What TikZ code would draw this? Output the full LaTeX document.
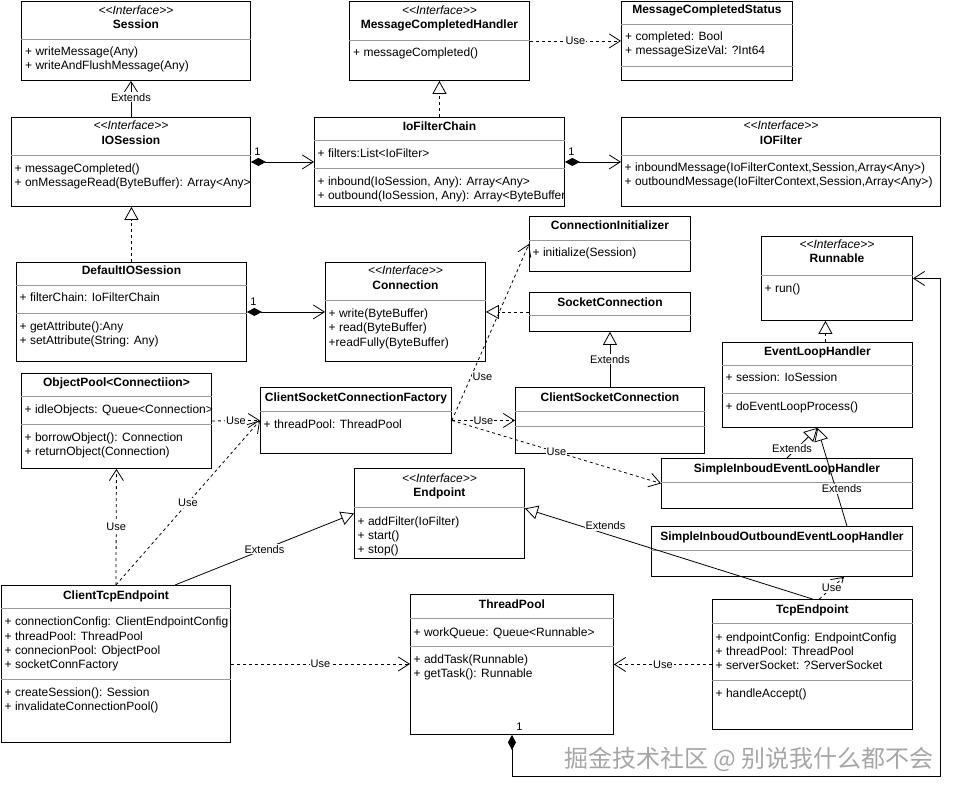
\documentclass[tikz,border=0pt]{standalone}
\usepackage{fontspec}
\setmainfont{Liberation Sans}[Ligatures=TeXOff]
\newfontfamily\cjkfont{Noto Sans CJK SC}
\usepackage{xcolor}
\colorlet{sepgray}{black!40}
\colorlet{markgray}{black!35}
\usetikzlibrary{arrows.meta}

\begin{document}
\begin{tikzpicture}[x=1pt, y=-1pt,
    box/.style={draw, fill=white, line width=0.9pt, anchor=north west, inner sep=0pt},
    stereo/.style={anchor=base, inner sep=0pt, font=\fontsize{12}{14}\selectfont\itshape},
    title/.style={anchor=base, inner sep=0pt, font=\fontsize{12}{14}\selectfont\bfseries},
    member/.style={anchor=base west, inner sep=0pt, font=\fontsize{12}{14}\selectfont},
    sepline/.style={sepgray, line width=0.7pt},
    openhead/.tip={Straight Barb[length=11pt, width=14pt]},
    hollowhead/.tip={Triangle[open, length=13pt, width=14pt, fill=white]},
    uses/.style={line width=0.8pt, dash pattern=on 3pt off 3pt, -openhead},
    extends/.style={line width=0.8pt, -hollowhead},
    realizes/.style={line width=0.8pt, dash pattern=on 3pt off 3pt, -hollowhead},
    comp/.style={line width=0.8pt, {Diamond[length=15pt, width=8pt]}-openhead},
    lbl/.style={fill=white, inner sep=1pt, font=\fontsize{11}{13}\selectfont},
    mult/.style={anchor=south west, inner sep=1pt, xshift=2pt, yshift=5pt, font=\fontsize{11}{13}\selectfont}]
  \useasboundingbox (0,0) rectangle (958,794);

  % top row
  \node[box, minimum width=229pt, minimum height=79pt] (session) at (21,1) {};
  \node[stereo] (session-st) at (session.north |- 0,15) {<<Interface>>};
  \node[title] (session-t) at (session.north |- 0,29) {Session};
  \draw[sepline] (session.west |- 0,39) -- (session.east |- 0,39);
  \node[member] (session-m1) at (25,56) {+ writeMessage(Any)};
  \node[member] (session-m2) at (25,70) {+ writeAndFlushMessage(Any)};

  \node[box, minimum width=180pt, minimum height=79pt] (mch) at (349,1) {};
  \node[stereo] (mch-st) at (mch.north |- 0,15) {<<Interface>>};
  \node[title] (mch-t) at (mch.north |- 0,29) {MessageCompletedHandler};
  \draw[sepline] (mch.west |- 0,40) -- (mch.east |- 0,40);
  \node[member] (mch-m1) at (353,57) {+ messageCompleted()};

  \node[box, minimum width=171pt, minimum height=79pt] (mcs) at (621,1) {};
  \node[title] (mcs-t) at (mcs.north |- 0,14) {MessageCompletedStatus};
  \draw[sepline] (mcs.west |- 0,24) -- (mcs.east |- 0,24);
  \node[member] (mcs-a1) at (625,41) {+ completed: Bool};
  \node[member] (mcs-a2) at (625,55) {+ messageSizeVal: ?Int64};
  \draw[sepline] (mcs.west |- 0,66) -- (mcs.east |- 0,66);

  % second row
  \node[box, minimum width=239pt, minimum height=89pt] (iosession) at (11,117) {};
  \node[stereo] (iosession-st) at (iosession.north |- 0,130) {<<Interface>>};
  \node[title] (iosession-t) at (iosession.north |- 0,145) {IOSession};
  \draw[sepline] (iosession.west |- 0,155) -- (iosession.east |- 0,155);
  \node[member] (iosession-m1) at (14.5,172.5) {+ messageCompleted()};
  \node[member] (iosession-m2) at (14.5,186.5) {+ onMessageRead(ByteBuffer): Array<Any>};

  \node[box, minimum width=250pt, minimum height=89pt] (iofc) at (314,117) {};
  \node[title] (iofc-t) at (iofc.north |- 0,131) {IoFilterChain};
  \draw[sepline] (iofc.west |- 0,140) -- (iofc.east |- 0,140);
  \node[member] (iofc-a1) at (317.5,157.5) {+ filters:List<IoFilter>};
  \draw[sepline] (iofc.west |- 0,168) -- (iofc.east |- 0,168);
  \node[member] (iofc-m1) at (317.5,185.5) {+ inbound(IoSession, Any): Array<Any>};
  \node[member] (iofc-m2) at (317.5,199.5) {+ outbound(IoSession, Any): Array<ByteBuffer};

  \node[box, minimum width=319pt, minimum height=89pt] (iofilter) at (621,117) {};
  \node[stereo] (iofilter-st) at (iofilter.north |- 0,130) {<<Interface>>};
  \node[title] (iofilter-t) at (iofilter.north |- 0,145) {IOFilter};
  \draw[sepline] (iofilter.west |- 0,155) -- (iofilter.east |- 0,155);
  \node[member] (iofilter-m1) at (624.5,172) {+ inboundMessage(IoFilterContext,Session,Array<Any>)};
  \node[member] (iofilter-m2) at (624.5,186) {+ outboundMessage(IoFilterContext,Session,Array<Any>)};

  % middle
  \node[box, minimum width=161pt, minimum height=55pt] (ci) at (529,216) {};
  \node[title] (ci-t) at (ci.north |- 0,230) {ConnectionInitializer};
  \draw[sepline] (ci.west |- 0,240.5) -- (ci.east |- 0,240.5);
  \node[member] (ci-m1) at (532.5,257) {+ initialize(Session)};

  \node[box, minimum width=151pt, minimum height=84pt] (runnable) at (761,236) {};
  \node[stereo] (runnable-st) at (runnable.north |- 0,249) {<<Interface>>};
  \node[title] (runnable-t) at (runnable.north |- 0,263) {Runnable};
  \draw[sepline] (runnable.west |- 0,275) -- (runnable.east |- 0,275);
  \node[member] (runnable-m1) at (764.5,292) {+ run()};

  \node[box, minimum width=230pt, minimum height=99pt] (defsess) at (16,262) {};
  \node[title] (defsess-t) at (defsess.north |- 0,275) {DefaultIOSession};
  \draw[sepline] (defsess.west |- 0,285.5) -- (defsess.east |- 0,285.5);
  \node[member] (defsess-a1) at (19.5,301.5) {+ filterChain: IoFilterChain};
  \draw[sepline] (defsess.west |- 0,313) -- (defsess.east |- 0,313);
  \node[member] (defsess-m1) at (19.5,330) {+ getAttribute():Any};
  \node[member] (defsess-m2) at (19.5,344) {+ setAttribute(String: Any)};

  \node[box, minimum width=160pt, minimum height=99pt] (connection) at (325,262) {};
  \node[stereo] (connection-st) at (connection.north |- 0,275) {<<Interface>>};
  \node[title] (connection-t) at (connection.north |- 0,290) {Connection};
  \draw[sepline] (connection.west |- 0,300) -- (connection.east |- 0,300);
  \node[member] (connection-m1) at (328.5,317) {+ write(ByteBuffer)};
  \node[member] (connection-m2) at (328.5,331) {+ read(ByteBuffer)};
  \node[member] (connection-m3) at (328.5,346) {+readFully(ByteBuffer)};

  \node[box, minimum width=161pt, minimum height=39pt] (sockconn) at (529,292) {};
  \node[title] (sockconn-t) at (sockconn.north |- 0,306) {SocketConnection};
  \draw[sepline] (sockconn.west |- 0,315.5) -- (sockconn.east |- 0,315.5);

  \node[box, minimum width=190pt, minimum height=85pt] (elh) at (722,342) {};
  \node[title] (elh-t) at (elh.north |- 0,355) {EventLoopHandler};
  \draw[sepline] (elh.west |- 0,365.5) -- (elh.east |- 0,365.5);
  \node[member] (elh-a1) at (725.5,381.5) {+ session: IoSession};
  \draw[sepline] (elh.west |- 0,393) -- (elh.east |- 0,393);
  \node[member] (elh-m1) at (725.5,410) {+ doEventLoopProcess()};

  \node[box, minimum width=190pt, minimum height=95pt] (objpool) at (21,373) {};
  \node[title] (objpool-t) at (objpool.north |- 0,386) {ObjectPool<Connectiion>};
  \draw[sepline] (objpool.west |- 0,396.5) -- (objpool.east |- 0,396.5);
  \node[member] (objpool-a1) at (24.5,413) {+ idleObjects: Queue<Connection>};
  \draw[sepline] (objpool.west |- 0,424) -- (objpool.east |- 0,424);
  \node[member] (objpool-m1) at (24.5,441.5) {+ borrowObject(): Connection};
  \node[member] (objpool-m2) at (24.5,455) {+ returnObject(Connection)};

  \node[box, minimum width=191pt, minimum height=66pt] (cscf) at (260,387) {};
  \node[title] (cscf-t) at (cscf.north |- 0,401.5) {ClientSocketConnectionFactory};
  \draw[sepline] (cscf.west |- 0,411.5) -- (cscf.east |- 0,411.5);
  \node[member] (cscf-a1) at (263.5,428) {+ threadPool: ThreadPool};

  \node[box, minimum width=189pt, minimum height=66pt] (csc) at (515,387) {};
  \node[title] (csc-t) at (csc.north |- 0,401.5) {ClientSocketConnection};
  \draw[sepline] (csc.west |- 0,411.5) -- (csc.east |- 0,411.5);
  \draw[sepline] (csc.west |- 0,426.5) -- (csc.east |- 0,426.5);

  \node[box, minimum width=251pt, minimum height=50pt] (sieh) at (661,458) {};
  \node[title] (sieh-t) at (sieh.north |- 0,472) {SimpleInboudEventLoopHandler};
  \draw[sepline] (sieh.west |- 0,482) -- (sieh.east |- 0,482);

  \node[box, minimum width=170pt, minimum height=90pt] (endpoint) at (354,468) {};
  \node[stereo] (endpoint-st) at (endpoint.north |- 0,482) {<<Interface>>};
  \node[title] (endpoint-t) at (endpoint.north |- 0,496.5) {Endpoint};
  \draw[sepline] (endpoint.west |- 0,507) -- (endpoint.east |- 0,507);
  \node[member] (endpoint-m1) at (357.5,525) {+ addFilter(IoFilter)};
  \node[member] (endpoint-m2) at (357.5,539) {+ start()};
  \node[member] (endpoint-m3) at (357.5,553) {+ stop()};

  \node[box, minimum width=261pt, minimum height=50pt] (sioeh) at (651,526) {};
  \node[title] (sioeh-t) at (sioeh.north |- 0,540) {SimpleInboudOutboundEventLoopHandler};
  \draw[sepline] (sioeh.west |- 0,550.5) -- (sioeh.east |- 0,550.5);

  % bottom row
  \node[box, minimum width=229pt, minimum height=157pt] (cte) at (1,585) {};
  \node[title] (cte-t) at (cte.north |- 0,599) {ClientTcpEndpoint};
  \draw[sepline] (cte.west |- 0,608) -- (cte.east |- 0,608);
  \node[member] (cte-a1) at (4.5,625.5) {+ connectionConfig: ClientEndpointConfig};
  \node[member] (cte-a2) at (4.5,640) {+ threadPool: ThreadPool};
  \node[member] (cte-a3) at (4.5,654) {+ connecionPool: ObjectPool};
  \node[member] (cte-a4) at (4.5,668.5) {+ socketConnFactory};
  \draw[sepline] (cte.west |- 0,679) -- (cte.east |- 0,679);
  \node[member] (cte-m1) at (4.5,696) {+ createSession(): Session};
  \node[member] (cte-m2) at (4.5,710) {+ invalidateConnectionPool()};

  \node[box, minimum width=203pt, minimum height=140pt] (tp) at (410,594) {};
  \node[title] (tp-t) at (tp.north |- 0,608) {ThreadPool};
  \draw[sepline] (tp.west |- 0,618.5) -- (tp.east |- 0,618.5);
  \node[member] (tp-a1) at (413.5,636) {+ workQueue: Queue<Runnable>};
  \draw[sepline] (tp.west |- 0,646.5) -- (tp.east |- 0,646.5);
  \node[member] (tp-m1) at (413.5,663) {+ addTask(Runnable)};
  \node[member] (tp-m2) at (413.5,677) {+ getTask(): Runnable};

  \node[box, minimum width=200pt, minimum height=130pt] (tcp) at (712,599) {};
  \node[title] (tcp-t) at (tcp.north |- 0,613) {TcpEndpoint};
  \draw[sepline] (tcp.west |- 0,623) -- (tcp.east |- 0,623);
  \node[member] (tcp-a1) at (715.5,641) {+ endpointConfig: EndpointConfig};
  \node[member] (tcp-a2) at (715.5,655) {+ threadPool: ThreadPool};
  \node[member] (tcp-a3) at (715.5,669) {+ serverSocket: ?ServerSocket};
  \draw[sepline] (tcp.west |- 0,680) -- (tcp.east |- 0,680);
  \node[member] (tcp-m1) at (715.5,697) {+ handleAccept()};

  % connectors
  \draw[line width=0.8pt, -openhead] (iosession.north) -- (iosession.north |- session.south)
    node[pos=0.55, lbl] {Extends};
  \draw[realizes] (iofc.north) -- (iofc.north |- mch.south);
  \draw[uses] (mch.east) -- (mch.east -| mcs.west) node[midway, lbl] {Use};
  \draw[comp] (iosession.east) -- (iofc.west) node[pos=0, mult] {1};
  \draw[comp] (iofc.east) -- (iofilter.west) node[pos=0, mult] {1};
  \draw[realizes] (defsess.north) -- (defsess.north |- iosession.south);
  \draw[comp] (defsess.east) -- (connection.west) node[pos=0, mult] {1};
  \draw[realizes] (sockconn.west) -- (sockconn.west -| connection.east);
  \draw[extends] (csc.north) -- (csc.north |- sockconn.south) node[midway, lbl] {Extends};
  \coordinate (elhtop) at ([xshift=8pt]elh.north);
  \draw[realizes] (elhtop) -- (elhtop |- runnable.south);
  \draw[extends] (sieh.north) -- (elh.south) node[pos=0.3, lbl, xshift=-4pt] {Extends};
  \draw[extends] ([xshift=65pt]sioeh.north) -- (elh.south) node[pos=0.38, lbl, xshift=6pt] {Extends};
  \draw[uses] (objpool.east) -- (cscf.west) node[midway, lbl] {Use};
  \draw[uses] (cscf.east) -- (ci.west) node[pos=0.25, lbl, anchor=west] {Use};
  \draw[uses] (cscf.east) -- (csc.west) node[midway, lbl] {Use};
  \draw[uses] (cscf.east) -- (sieh.west) node[midway, lbl] {Use};
  \draw[uses] (cte.north) -- (objpool.south) node[midway, lbl] {Use};
  \draw[uses] (cte.north) -- (cscf.west) node[midway, lbl] {Use};
  \draw[extends] ([xshift=59pt]cte.north) -- (endpoint.west) node[midway, lbl] {Extends};
  \draw[uses] (cte.east) -- (cte.east -| tp.west) node[midway, lbl] {Use};
  \draw[uses] (tcp.west) -- (tp.east) node[midway, lbl] {Use};
  \draw[extends] (tcp.north) -- ([yshift=5pt]endpoint.east) node[pos=0.72, lbl, yshift=8pt] {Extends};
  \draw[uses] ([xshift=7pt]tcp.north) -- ([xshift=62pt]sioeh.south) node[midway, lbl] {Use};
  \coordinate (loopc) at (940.5,776);
  \draw[comp] (tp.south) |- (loopc) node[pos=0, mult, xshift=1pt, yshift=-2pt] {1} |- (runnable.east);

  \node[markgray, font=\fontsize{24}{28}\selectfont\cjkfont] (wmark) at (749,759) {掘金技术社区 @ 别说我什么都不会};
\end{tikzpicture}
\end{document}
